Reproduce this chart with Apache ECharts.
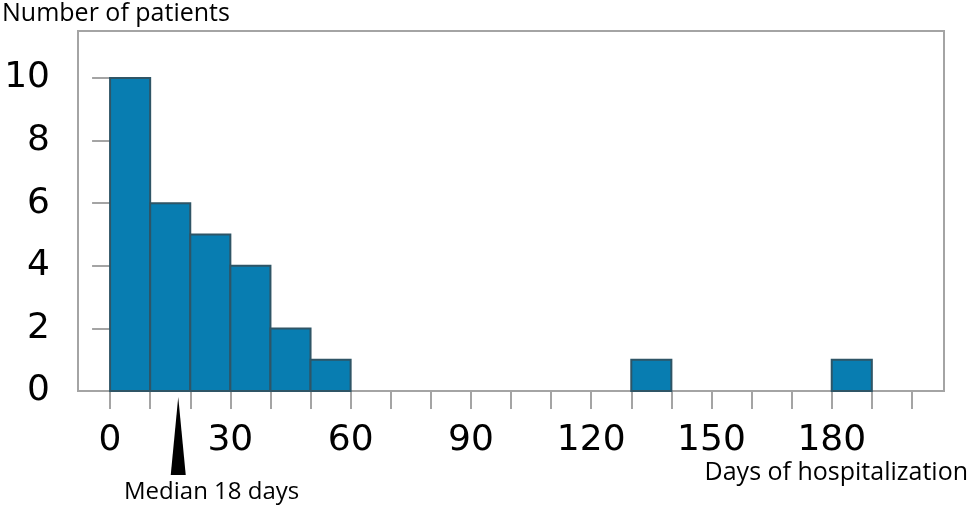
<!DOCTYPE html>
<html>
<head>
<meta charset="utf-8">
<script src="https://cdn.jsdelivr.net/npm/echarts@6/dist/echarts.min.js"></script>
<style>
html,body{margin:0;padding:0;background:#fff;}
#chart{width:969px;height:516px;}
</style>
</head>
<body>
<div id="chart"></div>
<script>
// Histogram bins (days of hospitalization) and patient counts
const binStart = [0, 10, 20, 30, 40, 50, 130, 180];
const binEnd   = [10, 20, 30, 40, 50, 60, 140, 190];
const counts   = [10, 6, 5, 4, 2, 1, 1, 1];

// Axis ticks and labels
const xTickValues  = [0,10,20,30,40,50,60,70,80,90,100,110,120,130,140,150,160,170,180,190,200];
const xLabelValues = [0,30,60,90,120,150,180];
const yTickValues  = [0,2,4,6,8,10];

// Median marker
const medianDays = 18;
const medianArrowDay = 17;
const medianLabel = 'Median ' + medianDays + ' days';

const FONT = "'Open Sans', 'Noto Sans', sans-serif";
const NUM_FONT = "'DejaVu Sans', sans-serif";
const GRID_GRAY = '#A4A4A4';

const chart = echarts.init(document.getElementById('chart'), null, {renderer: 'canvas'});

const barData = binStart.map((s, i) => [s, binEnd[i], counts[i]]);

chart.setOption({
  animation: false,
  backgroundColor: '#fff',
  grid: {
    left: 78, right: 25, top: 31, bottom: 125,
    show: true, borderColor: GRID_GRAY, borderWidth: 2, backgroundColor: 'transparent'
  },
  xAxis: {
    type: 'value', min: -8, max: 208,
    axisLine: {show: false},
    splitLine: {show: false},
    axisTick: {show: true, customValues: xTickValues, length: 18, lineStyle: {color: GRID_GRAY, width: 2}},
    axisLabel: {customValues: xLabelValues, margin: 32, color: '#000', fontSize: 36, fontFamily: NUM_FONT}
  },
  yAxis: {
    type: 'value', min: 0, max: 11.5,
    axisLine: {show: false},
    splitLine: {show: false},
    axisTick: {show: true, customValues: yTickValues, length: 18, lineStyle: {color: GRID_GRAY, width: 2}},
    axisLabel: {customValues: yTickValues, margin: 28, color: '#000', fontSize: 36, fontFamily: NUM_FONT}
  },
  series: [
    {
      type: 'custom',
      data: barData,
      renderItem: function (params, api) {
        const p0 = api.coord([api.value(0), 0]);
        const p1 = api.coord([api.value(1), api.value(2)]);
        return {
          type: 'rect',
          shape: {x: p0[0], y: p1[1], width: p1[0] - p0[0], height: p0[1] - p1[1]},
          style: {fill: '#087DB1', stroke: '#2F5566', lineWidth: 2}
        };
      },
      encode: {x: [0, 1], y: 2},
      z: 3
    },
    {
      type: 'scatter',
      data: [[medianArrowDay, 0]],
      symbol: 'triangle',
      symbolSize: [15, 78],
      symbolOffset: [0, 45],
      itemStyle: {color: '#000', opacity: 1},
      clip: false,
      silent: true,
      z: 5
    }
  ],
  graphic: [
    {type: 'text', left: 2, top: 1, style: {text: 'Number of patients', fontSize: 25, fontFamily: FONT, fill: '#000'}},
    {type: 'text', right: 1, top: 460, style: {text: 'Days of hospitalization', fontSize: 25, fontFamily: FONT, fill: '#000'}},
    {type: 'text', left: 124, top: 480, style: {text: medianLabel, fontSize: 24, fontFamily: FONT, fill: '#000'}}
  ]
});
</script>
</body>
</html>
